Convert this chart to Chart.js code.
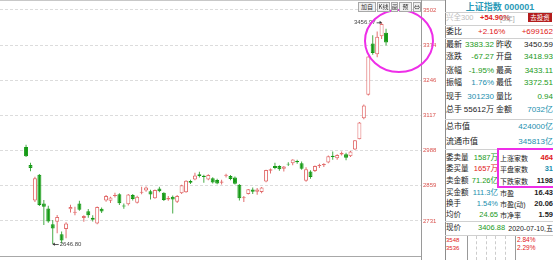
<!DOCTYPE html>
<html><head><meta charset="utf-8">
<script src="https://cdn.jsdelivr.net/npm/chart.js@4.4.1/dist/chart.umd.min.js"></script>
<style>
body{margin:0;background:#fff;}
#wrap{position:relative;width:553px;height:260px;overflow:hidden;font-family:"Liberation Sans","Noto Sans CJK SC",sans-serif;background:#fff;}
#cv{position:absolute;left:0;top:0;}
.t{position:absolute;white-space:nowrap;line-height:1;transform:translateY(-50%);}
.h{position:absolute;height:1px;background:#d0d0d0;}
.v{position:absolute;width:1px;background:#8c8c8c;}
.btn{position:absolute;top:2px;height:10px;box-sizing:border-box;border:1px solid #a8a8a8;background:#f0f0f0;font-size:6px;line-height:8px;text-align:center;color:#333;font-family:"Noto Sans CJK SC";overflow:hidden;}
</style>
</head><body>
<div id="wrap"><canvas id="cv" width="445" height="260"></canvas></div>
<script>
// ---- data ----
const DATES = ['03-11','03-12','03-13','03-16','03-17','03-18','03-19','03-20','03-23','03-24','03-25','03-26','03-27','03-30','03-31',
 '04-01','04-02','04-03','04-07','04-08','04-09','04-10','04-13','04-14','04-15','04-16','04-17','04-20','04-21','04-22','04-23','04-24','04-27','04-28','04-29','04-30',
 '05-06','05-07','05-08','05-11','05-12','05-13','05-14','05-15','05-18','05-19','05-20','05-21','05-22','05-25','05-26','05-27','05-28','05-29',
 '06-01','06-02','06-03','06-04','06-05','06-08','06-09','06-10','06-11','06-12','06-15','06-16','06-17','06-18','06-19','06-22','06-23','06-24','06-29','06-30',
 '07-01','07-02','07-03','07-06','07-07','07-08','07-09','07-10'];
const OPEN = [3001,2936,2806,2900,2795,2777,2719,2728,2683,2702,2774,2761,2795,2742,2767,
 2743,2722,2776,2806,2805,2822,2829,2788,2792,2826,2798,2834,2842,2840,2814,2850,2834,2810,2820,2801,2832,
 2836,2877,2883,2902,2896,2883,2887,2881,2871,2896,2895,2890,2863,2814,2830,2846,2838,2837,
 2875,2915,2932,2932,2922,2940,2942,2950,2942,2878,2912,2914,2932,2935,2945,2969,2960,2974,2975,2968,
 2992,3030,3106,3192,3380,3340,3406,3418.93];
const HIGH = [3010,2944,2893,2903,2808,2787,2735,2753,2693,2726,2790,2783,2805,2752,2775,
 2752,2784,2780,2826,2820,2834,2832,2795,2830,2830,2823,2856,2857,2845,2846,2856,2836,2822,2824,2826,2863,
 2880,2882,2907,2911,2900,2902,2891,2885,2882,2904,2899,2894,2866,2822,2848,2853,2852,2855,
 2918,2923,2944,2935,2932,2946,2957,2955,2948,2927,2916,2934,2940,2942,2970,2985,2975,2985,2980,2987,
 3027,3093,3157,3333,3410,3423,3456.97,3433.11];
const LOW = [2965,2913,2800,2786,2716,2725,2646.80,2686,2649,2668,2762,2752,2768,2728,2743,
 2729,2719,2760,2801,2797,2817,2789,2776,2788,2806,2795,2829,2838,2810,2812,2836,2804,2805,2758,2797,2830,
 2834,2866,2880,2890,2871,2880,2868,2865,2864,2890,2880,2864,2806,2800,2828,2830,2827,2832,
 2873,2905,2920,2915,2912,2932,2935,2940,2918,2874,2885,2910,2925,2928,2942,2955,2955,2970,2953,2965,
 2990,3030,3103,3190,3338,3329,3396,3372.51];
const CLOSE = [2968,2925,2887,2789,2783,2729,2704,2746,2660,2722,2782,2765,2772,2749,2752,
 2736,2782,2766,2822,2817,2826,2796,2784,2828,2811,2820,2838,2853,2828,2844,2840,2808,2815,2810,2822,2862,
 2878,2871,2897,2895,2892,2899,2872,2868,2875,2900,2884,2867,2814,2818,2847,2838,2846,2853,
 2917,2920,2925,2920,2930,2937,2956,2946,2922,2920,2892,2932,2936,2939,2968,2965,2972,2979,2962,2985,
 3026,3091,3153,3332,3345,3404,3450.59,3383.32];
const Y_TICK_LABELS = ['2731','2859','2988','3117','3246','3374','3502'];
const Y_TICK_MIN = 2731, Y_TICK_MAX = 3502;

const UP = '#e26d6d', DOWN = '#149a14', DOWN_WICK = '#47ab47';
const isUp = i => CLOSE[i] >= OPEN[i];

const overlay = {
  id: 'overlay',
  afterDraw(chart) {
    const {ctx, scales: {x, y}, chartArea: ca} = chart;
    ctx.save();
    ctx.strokeStyle = '#c8c8c8'; ctx.lineWidth = 1;
    ctx.beginPath(); ctx.moveTo(0, 0.5); ctx.lineTo(445, 0.5); ctx.stroke();
    ctx.strokeStyle = '#a8a8a8';
    ctx.beginPath(); ctx.moveTo(0, ca.bottom + 0.5); ctx.lineTo(ca.right, ca.bottom + 0.5); ctx.stroke();
    ctx.strokeStyle = '#9a9a9a';
    ctx.beginPath(); ctx.moveTo(ca.right + 0.5, 0); ctx.lineTo(ca.right + 0.5, 260); ctx.stroke();
    ctx.font = '6px "Liberation Sans"'; ctx.fillStyle = '#444'; ctx.strokeStyle = '#555';
    ctx.textBaseline = 'middle';
    const hi = HIGH.indexOf(Math.max(...HIGH));
    const hx = x.getPixelForValue(hi), hy = y.getPixelForValue(HIGH[hi]);
    ctx.textAlign = 'right';
    ctx.fillText(HIGH[hi].toFixed(2), hx - 6, hy);
    ctx.beginPath(); ctx.moveTo(hx - 5, hy + 0.5); ctx.lineTo(hx, hy + 0.5); ctx.stroke();
    ctx.beginPath(); ctx.moveTo(hx, hy); ctx.lineTo(hx - 2, hy - 1.5); ctx.lineTo(hx - 2, hy + 2); ctx.closePath(); ctx.fillStyle = '#333'; ctx.fill();
    const lo = LOW.indexOf(Math.min(...LOW));
    const lx = x.getPixelForValue(lo), ly = y.getPixelForValue(LOW[lo]);
    ctx.fillStyle = '#444'; ctx.textAlign = 'left';
    ctx.fillText(LOW[lo].toFixed(2), lx + 7, ly);
    ctx.beginPath(); ctx.moveTo(lx, ly + 0.5); ctx.lineTo(lx + 6, ly + 0.5); ctx.stroke();
    ctx.beginPath(); ctx.moveTo(lx, ly); ctx.lineTo(lx + 2, ly - 1.5); ctx.lineTo(lx + 2, ly + 2); ctx.closePath(); ctx.fillStyle = '#333'; ctx.fill();
    ctx.strokeStyle = '#ee2ee8'; ctx.lineWidth = 2;
    ctx.beginPath(); ctx.ellipse(399, 41, 34, 31, 0, 0, Math.PI * 2); ctx.stroke();
    ctx.restore();
  }
};

new Chart(document.getElementById('cv'), {
  type: 'bar',
  data: {
    datasets: [
      { label: 'body', order: 0, grouped: false, barThickness: 4, borderWidth: 1, borderSkipped: false, inflateAmount: 0,
        data: DATES.map((d, i) => ({x: i, y: [OPEN[i], CLOSE[i]]})),
        backgroundColor: DATES.map((d, i) => isUp(i) ? '#ffffff' : DOWN),
        borderColor: DATES.map((d, i) => isUp(i) ? UP : DOWN) },
      { label: 'wick', order: 1, grouped: false, barThickness: 1, borderWidth: 0, inflateAmount: 0,
        data: DATES.map((d, i) => ({x: i, y: [LOW[i], HIGH[i]]})),
        backgroundColor: DATES.map((d, i) => isUp(i) ? UP : DOWN_WICK) }
    ]
  },
  options: {
    responsive: false, animation: false,
    layout: {padding: {left: 0, right: 0, top: 0, bottom: 4}},
    plugins: {legend: {display: false}, tooltip: {enabled: false}},
    scales: {
      x: {type: 'linear', min: -0.6, max: 83.6, display: false},
      y: {
        position: 'right', min: 2603.1, max: 3538.5,
        afterBuildTicks: s => {
          const step = (Y_TICK_MAX - Y_TICK_MIN) / (Y_TICK_LABELS.length - 1);
          s.ticks = Y_TICK_LABELS.map((l, i) => ({value: Y_TICK_MIN + i * step}));
        },
        afterFit: s => { s.width = 24; s.paddingTop = 0; s.paddingBottom = 0; },
        grid: {color: '#dcdcdc', drawTicks: false, lineWidth: 1},
        border: {display: true, color: '#9a9a9a', dash: [3, 2]},
        ticks: {padding: 2, color: '#d9534f', font: {size: 6, family: 'Liberation Sans'},
                callback: (v, i) => Y_TICK_LABELS[i]}
      }
    }
  },
  plugins: [overlay]
});

// ---- quote panel (text) ----
const wrap = document.getElementById('wrap');
function put(x, y, s, o = {}) {
  const e = document.createElement('div'); e.className = 't'; e.textContent = s;
  if (o.r) e.style.right = (553 - x) + 'px'; else e.style.left = x + 'px';
  e.style.top = y + 'px'; e.style.color = o.c || '#222'; e.style.fontSize = (o.s || 8) + 'px';
  if (o.b) e.style.fontWeight = 'bold';
  wrap.appendChild(e); return e;
}
function hl(y, x1 = 445, x2 = 553) { const e = document.createElement('div'); e.className = 'h'; e.style.top = y + 'px'; e.style.left = x1 + 'px'; e.style.width = (x2 - x1) + 'px'; wrap.appendChild(e); }
function vl(x, y1, y2, c) { const e = document.createElement('div'); e.className = 'v'; e.style.left = x + 'px'; e.style.top = y1 + 'px'; e.style.height = (y2 - y1) + 'px'; if (c) e.style.background = c; wrap.appendChild(e); return e; }

const RED = '#e02020', GRN = '#1a9a1a', TEAL = '#1b8fae', BLK = '#222';
vl(445, 0, 260);
const title = put(500, 6.5, '上证指数 000001', {c: '#2b9bb8', s: 9, b: true});
title.style.transform = 'translate(-50%,-50%)';
hl(12);
put(446, 17.5, '兴全300', {c: '#bdbdbd', s: 7.5});
put(480, 17.5, '+54.90%', {c: RED, s: 7.5, b: true});
put(500, 17.5, '[3年]', {c: '#aaa', s: 7});
const b = document.createElement('div');
b.style.cssText = 'position:absolute;left:528px;top:13px;width:24px;height:9px;background:#b31c1c;color:#fff;font-size:6.5px;line-height:9px;text-align:center;font-family:"Noto Sans CJK SC";';
b.textContent = '去投资'; wrap.appendChild(b);
hl(25);
put(446, 32, '委比');
put(478, 32, '+2.16%', {c: RED});
put(553, 32, '+699162', {c: RED, r: true});
hl(38);
const ROWS = [
  [44.5, '最新', '3383.32', GRN, '昨收', '3450.59', BLK],
  [57, '涨跌', '-67.27', GRN, '开盘', '3418.93', GRN],
  [70.5, '涨幅', '-1.95%', GRN, '最高', '3433.11', GRN],
  [83, '振幅', '1.76%', TEAL, '最低', '3372.51', GRN],
  [97, '现手', '301230', TEAL, '量比', '0.94', GRN],
  [110, '总手', '55612万', BLK, '金额', '7032亿', TEAL]
];
ROWS.forEach(r => { put(446, r[0], r[1]); put(494, r[0], r[2], {c: r[3], r: true}); put(496, r[0], r[4]); put(553, r[0], r[5], {c: r[6], r: true}); });
hl(119);
put(446, 127, '总市值'); put(553, 127, '424000亿', {c: TEAL, r: true});
put(446, 142, '流通市值'); put(553, 142, '345813亿', {c: TEAL, r: true});
hl(149);
const ROWS2 = [
  [158, '委卖量', '1587万', GRN, '上涨家数', '464', RED],
  [169, '委买量', '1657万', RED, '平盘家数', '31', TEAL],
  [181, '卖金额', '71.26亿', GRN, '下跌家数', '1198', BLK],
  [193, '买金额', '111.3亿', TEAL, '市盈', '16.43', BLK],
  [204, '换手', '1.54%', TEAL, '市盈(动)', '20.06', BLK],
  [215, '均价', '24.65', GRN, '市净率', '1.59', BLK]
];
ROWS2.forEach(r => { put(446, r[0], r[1], {s: 7.5}); put(498, r[0], r[2], {c: r[3], r: true, s: 7.5}); put(500, r[0], r[4], {s: 7}); put(553, r[0], r[5], {c: r[6], r: true, s: 7.5, b: true}); });
hl(221);
put(446, 228, '现价', {s: 7.5});
put(478, 228, '3406.88', {c: GRN, s: 7.5});
put(553, 228, '2020-07-10,五', {s: 7, r: true});
hl(235);
const m = document.createElement('div');
m.style.cssText = 'position:absolute;left:497px;top:148px;width:56px;height:40px;box-sizing:border-box;border:2px solid #ee2ee8;border-right:none;';
wrap.appendChild(m);
vl(467, 236, 260, '#999'); vl(515, 236, 260, '#999');
[476, 486, 495, 505].forEach(x => { const e = vl(x, 236, 260, 'transparent'); e.style.borderLeft = '1px dashed #ccc'; e.style.width = '0'; });
put(446, 240, '3548', {c: RED, s: 6});
put(446, 248, '3536', {c: RED, s: 6});
put(517, 240, '2.84%', {c: RED, s: 6.5});
put(517, 248, '2.29%', {c: RED, s: 6.5});
[['加自选', 358, 18], ['K线叠', 377, 13], ['画', 391, 7], ['预测', 399, 13], ['⇔', 413, 8]].forEach(([t, x, w]) => {
  const e = document.createElement('div'); e.className = 'btn'; e.style.left = x + 'px'; e.style.width = w + 'px'; e.textContent = t; wrap.appendChild(e);
});
</script>
</body></html>
